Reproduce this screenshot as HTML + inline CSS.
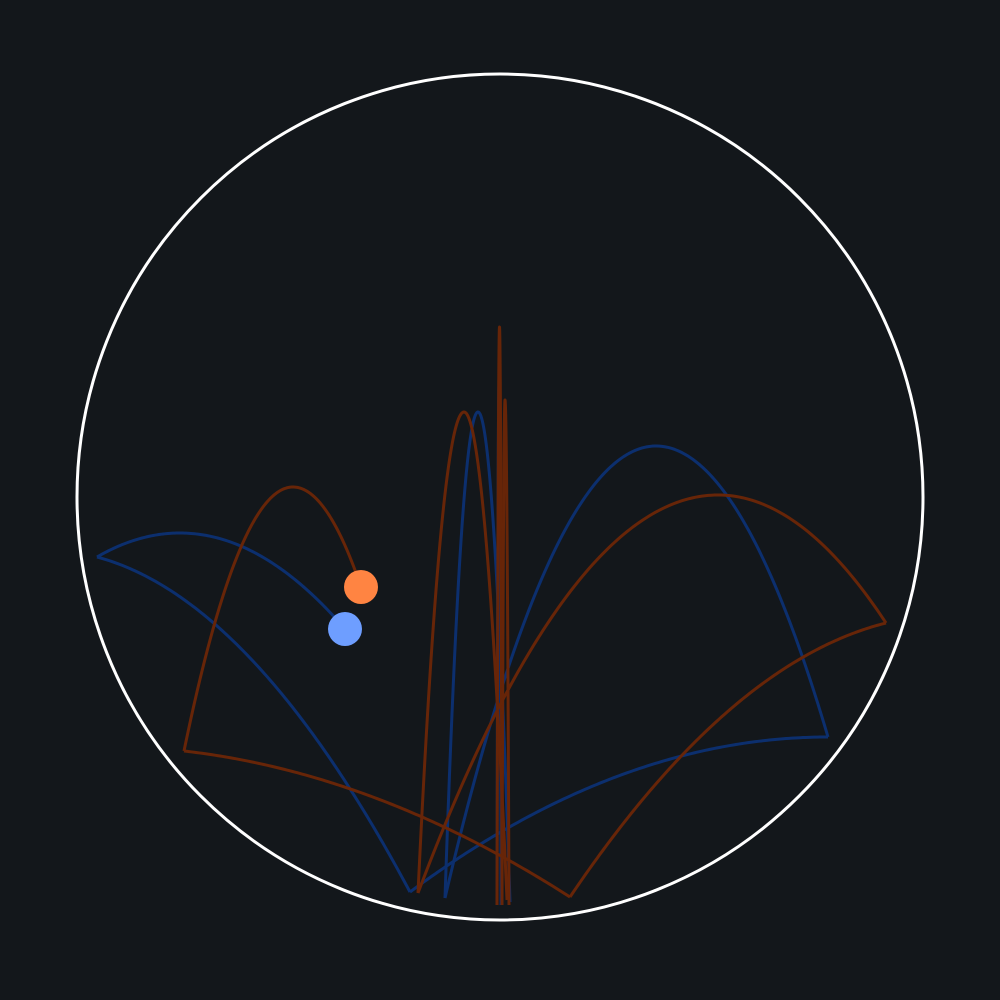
<!DOCTYPE html>
<html><head><meta charset="utf-8"><style>
html,body{margin:0;padding:0;background:#13171b;}
svg{display:block;}
</style></head><body>
<svg id="chart" width="1000" height="1000" viewBox="0 0 1000 1000">
<rect x="0" y="0" width="1000" height="1000" fill="#13171b"/>
<circle cx="500" cy="497" r="423" fill="none" stroke="#ffffff" stroke-width="3"/>
<g id="trails"></g>
<g id="balls"></g>
</svg>
<script>
// each arc: [x0,y0, apexX,apexY, x1,y1]; when apex outside segment, apexY is derived
const blueArcs = [
  [497,905, 499,385, 501,905],
  [510,902, 478,412, 445,898],
  [445,898, 656,446, 828,737],
  [828,737, 828,737, 410,892],
  [410,892, 45,550, 97,557],
  [97,557, 180,533, 345,629]
];
const orangeArcs = [
  [497,905, 499.5,327, 502,905],
  [502,905, 505,400, 509,905],
  [507,900, 464,412, 418,893],
  [418,893, 718,495, 886,623],
  [886,623, 950,615, 570,897],
  [570,897, 100,746, 184,751],
  [184,751, 293,487, 361,587]
];
const blueBall = [345,629];
const orangeBall = [361,587];
const NS = 'http://www.w3.org/2000/svg';
function arcPath(a){
  let [x0,y0,xa,ya,x1,y1]=a;
  const same = (x0-xa)*(x1-xa) >= 0 && !(x0===xa && x1===xa);
  let as, ae;
  if(same){
    const k=(y1-y0)/((x1-xa)*(x1-xa)-(x0-xa)*(x0-xa));
    ya=y0-k*(x0-xa)*(x0-xa);
    as=ae=k;
  } else {
    as=(y0-ya)/((x0-xa)*(x0-xa));
    ae=(y1-ya)/((x1-xa)*(x1-xa));
  }
  let d='';
  const N=150;
  for(let i=0;i<=N;i++){
    const t=i/N;
    const x=x0+(x1-x0)*t;
    const k=((x-xa)*(x0-xa)>=0)?as:ae;
    const y=ya+k*(x-xa)*(x-xa);
    d+=(i?'L':'M')+x.toFixed(2)+','+y.toFixed(2);
  }
  return d;
}
const trails=document.getElementById('trails');
function drawTrail(arcs,color,name){
  arcs.forEach((a,i)=>{
    const p=document.createElementNS(NS,'path');
    p.setAttribute('d',arcPath(a));
    p.setAttribute('fill','none');
    p.setAttribute('stroke',color);
    p.setAttribute('stroke-width','3');
    p.setAttribute('stroke-linejoin','round');
    
    
    trails.appendChild(p);
  });
}
drawTrail(blueArcs,'#0c2f6e','blue-trail');
drawTrail(orangeArcs,'#672508','orange-trail');
const balls=document.getElementById('balls');
const bb=document.createElementNS(NS,'circle');
bb.setAttribute('cx',blueBall[0]);bb.setAttribute('cy',blueBall[1]);bb.setAttribute('r','17');bb.setAttribute('fill','#6e9eff');


balls.appendChild(bb);
const ob=document.createElementNS(NS,'circle');
ob.setAttribute('cx',orangeBall[0]);ob.setAttribute('cy',orangeBall[1]);ob.setAttribute('r','17');ob.setAttribute('fill','#ff8442');


balls.appendChild(ob);
</script>
</body></html>
